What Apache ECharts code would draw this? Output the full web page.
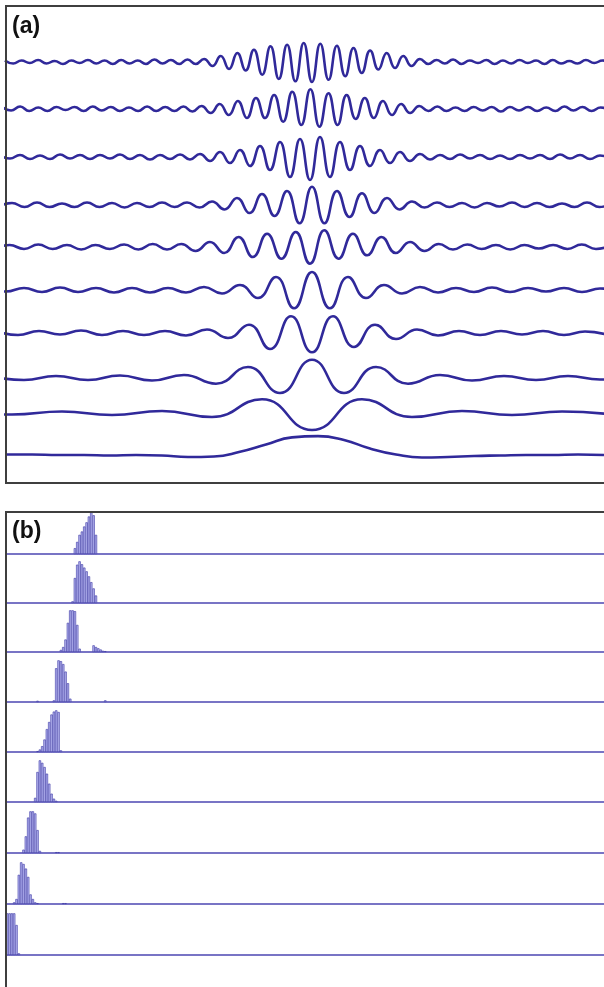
<!DOCTYPE html>
<html><head><meta charset="utf-8">
<script src="https://cdn.jsdelivr.net/npm/echarts@6.0.0/dist/echarts.min.js"></script>
<style>html,body{margin:0;padding:0;background:#fff}#c{width:604px;height:987px}</style>
</head><body><div id="c"></div>
<script>
// ---------- Panel (a): ten band-pass traces, values at successive extrema (offset from baseline) ----------
const traceStart = [4.9, 2.0, 0, -0.5, -4.6, -12, -3, -8, -38, 6];
const traceStep  = [8.3, 9.07, 10, 12.5, 14.3, 18, 21, 32, 50, 26];

const trace1 = [1.5,
  -1.5, 1.5, -1, 2, -1.5, 1, -2, 1.5, -1, 2, -1.5, 1.5, -2, 2, -1.5, 1.5, -2, 2.5, -1.5, 2, -2, 2.5, -2, 3,
  -4, 6, -7, 9, -8.5, 12.3, -12.7, 15.7, -17, 17.3, -19.3, 19, -20, 18.3, -17.7, 16.3, -14.3, 14, -11, 11.5, -7.5, 9, -6, 6, -4, 3,
  -2, 2, -1.5, 2.5, -2, 1.5, -1, 2, -2, 1.5, -1.5, 2, -1, 1.5, -2, 2, -1.5, 1, -1.5, 2, -1, 1.5,
  -1.5];
const trace2 = [
  2, -1.5, 2.5, -2, 1.5, -2, 2, -1, 2, -2, 2.5, -1.5, 2, -2, 1.5, -2, 2.5, -2, 2, -2, 2.5,
  -2.5, 3, -4, 5, -6, 8, -9, 11, -9, 14, -12.7, 17.3, -16, 19.7, -17.7, 15.7, -16, 14, -10, 11, -9, 8, -6, 5, -4, 3,
  -2, 2.5, -2, 1.5, -2, 2, -1.5, 2, -2.5, 2, -1.5, 2, -2, 1.5, -2, 2.5, -1.5, 2, -2, 1.5, -1.5];
const trace3 = [1.5,
  -1.5, 2, -2, 1.5, -2, 2.5, -1.5, 2, -2, 2, -1.5, 2.5, -2, 2, -2.5, 2, -2, 2.5, -2.5,
  3, -4, 5, -6, 7, -9, 11, -13, 15, -20, 18, -23, 20, -20, 15, -13, 11, -9, 7, -6, 5, -4, 3,
  -2.5, 2, -2, 2.5, -1.5, 2, -2, 1.5, -2, 2, -1.5, 2, -2, 2.5, -1.5, 2, -2, 1.5, -1.5];
const trace4 = [
  -1.5, 2, -2, 2.5, -2, 1.5, -2, 2.5, -2, 2, -2.5, 2, -2, 2.5, -2,
  2.5, -2.5, 3.5, -4.5, 7, -8, 11, -11, 14, -18.3, 18.3, -18.3, 14, -12, 11.7, -8, 7, -4.5, 3.5, -2.5, 2.5,
  -2, 2, -2.5, 2, -1.5, 2.5, -2, 2, -2, 1.5, -2, 2.5, -2, 2];
const trace5 = [
  -1.5, 2, -2, 2.5, -2, 2, -2.5, 2, -2, 2.5, -2.5, 3,
  -2.5, 3, -4, 5, -6, 10, -10, 13.3, -11.7, 15, -16.7, 16.7, -11.7, 13.3, -8.3, 10, -6, 5, -4, 3, -2.5,
  2.5, -2, 2, -2.5, 2, -1.5, 2, -2, 2.5, -2, 1.5];
const trace6 = [1.5,
  -1.5, 2, -2, 2.5, -2, 2, -2.5, 2, -2.5,
  2, -2.5, 3, -3.5, 5, -8, 13, -18.3, 18, -18.3, 13, -8, 5, -3.5, 3, -2.5, 2,
  -2, 2.5, -2, 2, -1.5, 2, -2, 1.5, -1.5];
const trace7 = [
  1.5, -2, 2, -1.5, 2.5, -2, 2, -2,
  2, -2.5, 3.5, -5, 8.3, -16, 16.7, -19.3, 16.7, -14, 8.3, -6, 3.5, -2.5, 2,
  -2, 2, -1.5, 2, -2, 1.5, -1.5];
const trace8 = [1.5, -2, 2, -2, 2.5, -2.5, 3, -5.7, 11, -15, 18.3, -15, 11, -5.7, 3, -2.5, 2, -2, 2, -1.5, 1.5];
const trace9 = [1, -1.5, 1.5, -2, 2, -4, 13.7, -17, 13.7, -4, 2, -2, 1.5, -1.5];
const trace10 = [0.5, 0.5, 0, 0, -0.5, 0, -0.5, -2, -1.5, 3.2, 10.5, 17.6, 18.9, 15, 6.5, 0.5, -2.5, -2, -1, -0.5, 0, 0, 0.5, 0];

// ---------- Panel (b): nine histograms, relative bin heights ----------
const binCount = 256;
const histStart = [29, 28, 23, 20, 13, 12, 7, 3, 0];
const hist1 = [14, 29, 46, 54, 66, 76, 90, 100, 93, 46];
const hist2 = [4, 60, 92, 100, 93, 85, 76, 64, 50, 35, 18];
const hist3 = [5, 12, 30, 70, 100, 100, 98, 65, 8];
const hist4 = [4, 81, 100, 98, 91, 73, 45, 8];
const hist5 = [2, 6, 14, 30, 55, 72, 90, 97, 100, 96, 4];
const hist6 = [10, 72, 100, 94, 84, 68, 44, 20, 8, 3];
const hist7 = [8, 40, 85, 100, 100, 95, 55, 5];
const hist8 = [4, 12, 70, 100, 96, 85, 65, 23, 12, 4, 2];
const hist9 = [100, 100, 100, 100, 72, 4];
const extra3 = [[37, 16], [38, 12], [39, 9], [40, 6], [41, 3], [42, 2]];
const extra4 = [[13, 3], [42, 4]];
const extra7 = [[21, 2], [22, 2]];
const extra8 = [[24, 2], [25, 2]];

// ---------- layout ----------
const traceBase = [62, 109, 157, 205, 247, 290, 333, 378, 413, 455];
const rowBase = [554, 603, 652, 702, 752, 802, 853, 904, 955];

const traces = [trace1, trace2, trace3, trace4, trace5, trace6, trace7, trace8, trace9, trace10];
const hists = [hist1, hist2, hist3, hist4, hist5, hist6, hist7, hist8, hist9];
const extras = [[], [], extra3, extra4, [], [], extra7, extra8, []];

const grids = [], xAxes = [], yAxes = [], series = [];

traces.forEach((t, i) => {
  const gi = grids.length;
  grids.push({left: 6, top: traceBase[i] - 25, width: 598, height: 50, outerBoundsMode: 'none'});
  xAxes.push({gridIndex: gi, type: 'value', min: 6, max: 604, show: false});
  yAxes.push({gridIndex: gi, type: 'value', min: -25, max: 25, show: false});
  series.push({
    type: 'line', xAxisIndex: gi, yAxisIndex: gi,
    data: t.map((v, k) => [traceStart[i] + k * traceStep[i], v]),
    smooth: true, symbol: 'none', showSymbol: false, clip: true, silent: true,
    lineStyle: {color: '#30299a', width: 2.6}
  });
});

const binLabels = Array.from({length: binCount}, (_, i) => String(i));
hists.forEach((h, r) => {
  const gi = grids.length;
  const arr = new Array(binCount).fill(null);
  h.forEach((v, k) => { arr[histStart[r] + k] = v; });
  extras[r].forEach(([b, v]) => { arr[b] = v; });
  grids.push({left: 6, top: rowBase[r] - 50, width: 598, height: 50, outerBoundsMode: 'none'});
  xAxes.push({gridIndex: gi, type: 'category', data: binLabels, boundaryGap: true,
    axisLine: {show: true, lineStyle: {color: '#4c47b3', width: 1.5}},
    axisTick: {show: false}, axisLabel: {show: false}, splitLine: {show: false}});
  yAxes.push({gridIndex: gi, type: 'value', min: 0, max: 120, show: false});
  series.push({
    type: 'bar', xAxisIndex: gi, yAxisIndex: gi, data: arr, silent: true,
    barCategoryGap: '0%', barGap: '0%',
    itemStyle: {color: '#b6b6f0', borderColor: '#3a35a4', borderWidth: 0.6}
  });
});

const frameStyle = {stroke: '#3f3f3f', lineWidth: 2, fill: null};
const chart = echarts.init(document.getElementById('c'), null, {renderer: 'canvas', width: 604, height: 987});
chart.setOption({
  animation: false,
  backgroundColor: '#ffffff',
  title: [
    {text: '(a)', left: 12, top: 15, padding: 0, textStyle: {fontSize: 23, fontWeight: 'bold', color: '#111', fontFamily: 'Liberation Sans, Arial, sans-serif'}},
    {text: '(b)', left: 12, top: 520, padding: 0, textStyle: {fontSize: 23, fontWeight: 'bold', color: '#111', fontFamily: 'Liberation Sans, Arial, sans-serif'}}
  ],
  graphic: [
    {type: 'polyline', silent: true, z: 10, shape: {points: [[640, 6], [6, 6], [6, 483], [640, 483]]}, style: frameStyle},
    {type: 'polyline', silent: true, z: 10, shape: {points: [[640, 512], [6, 512], [6, 1000]]}, style: frameStyle}
  ],
  grid: grids, xAxis: xAxes, yAxis: yAxes, series: series
});
</script>
</body></html>
